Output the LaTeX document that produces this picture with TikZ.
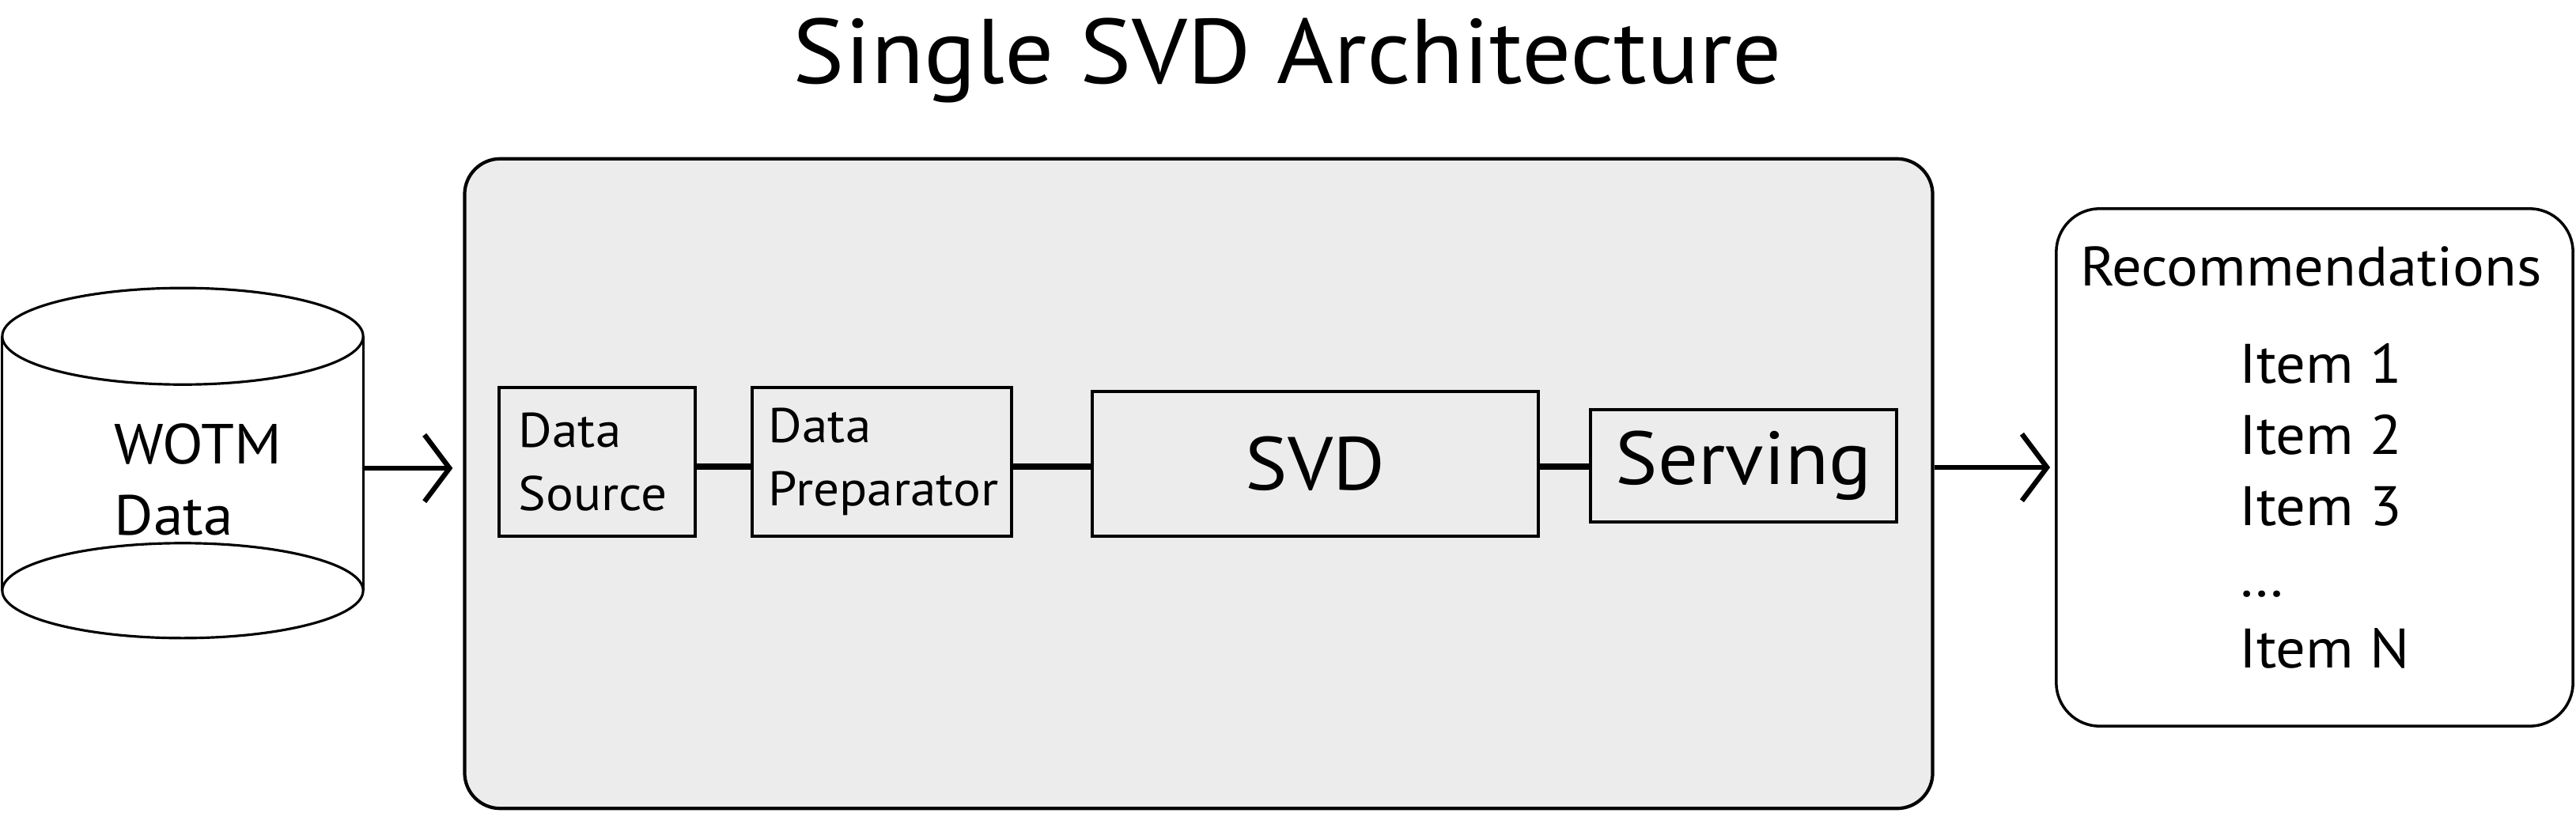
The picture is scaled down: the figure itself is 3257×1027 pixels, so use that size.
\documentclass[tikz,border=0pt]{standalone}
\usepackage{fontspec}
\setmainfont{PT Sans}[FakeStretch=1.06]
\usetikzlibrary{arrows.meta}
\definecolor{panel}{HTML}{ECECEC}
\hyphenpenalty=10000
\exhyphenpenalty=10000
\begin{document}
\begin{tikzpicture}[x=0.01cm,y=-0.01cm,
  cyl/.style={draw, line width=0.9pt, fill=white},
  stage/.style={draw, line width=1pt, fill=panel, inner sep=0pt, align=left},
  conn/.style={line width=2.4pt},
  arr/.style={line width=1.8pt, -{Straight Barb[length=9pt,width=24pt]}},
  smalltxt/.style={font=\fontsize{17.5}{22.8}\selectfont},
  bigtxt/.style={font=\fontsize{27}{32}\selectfont}
]
\useasboundingbox[fill=white] (0,0) rectangle (3257,1027);

% title
\node[font=\fontsize{33}{40}\selectfont, anchor=base, inner sep=0pt] (title) at (1628,105) {Single SVD Architecture};

% database cylinder
\node[minimum width=4.56cm, minimum height=3.2cm, inner sep=0pt] (db) at (231,586) {};
\draw[line width=0.9pt] (db.north west) -- (db.south west);
\draw[line width=0.9pt] (db.north east) -- (db.south east);
\draw[cyl] (db.south) ellipse [x radius=2.28cm, y radius=0.6cm];
\draw[cyl] (db.north) ellipse [x radius=2.28cm, y radius=0.61cm];
\node[anchor=north west, inner sep=0pt, align=left, font=\fontsize{20.3}{25.6}\selectfont] (dblbl) at (144,535) {WOTM\\Data};

% main panel
\node[draw, fill=panel, line width=1.2pt, rounded corners=0.45cm, minimum width=18.55cm, minimum height=8.21cm] (main) at (1515.5,611.5) {};

% stages
\node[stage, smalltxt, inner xsep=0.25cm, text width=1.98cm, minimum height=1.88cm] (ds) at (755,584) {Data\\Source};
\node[stage, smalltxt, inner xsep=0.21cm, text width=2.86cm, minimum height=1.88cm] (dp) at (1115,584) {Data\\Preparator};
\node[stage, bigtxt, minimum width=5.64cm, minimum height=1.83cm] (svd) at (1663,586.5) {SVD};
\node[stage, bigtxt, minimum width=3.87cm, minimum height=1.42cm] (serv) at (2204.5,589) {Serving};

\coordinate (cy) at (0,590);
\draw[conn] (ds.east |- cy) -- (dp.west |- cy);
\draw[conn] (dp.east |- cy) -- (svd.west |- cy);
\draw[conn] (svd.east |- cy) -- (serv.west |- cy);

% recommendations
\node[draw, fill=white, line width=1pt, rounded corners=0.55cm, minimum width=6.53cm, minimum height=6.54cm] (rec) at (2926.5,591) {};
\node[anchor=base, inner sep=0pt, font=\fontsize{20}{24}\selectfont] (rectitle) at (2922,361) {Recommendations};
\node[anchor=north west, inner sep=0pt, align=left, font=\fontsize{20}{25.6}\selectfont] (items) at (2831,434) {Item 1\\Item 2\\Item 3\\…\\Item N};

% arrows
\draw[arr, shorten >=0.13cm] ([yshift=-0.06cm]db.east) -- ([yshift=-0.06cm]db.east -| main.west);
\draw[arr, shorten >=0.06cm] (main.east |- rec.west) -- (rec.west);
\end{tikzpicture}
\end{document}
